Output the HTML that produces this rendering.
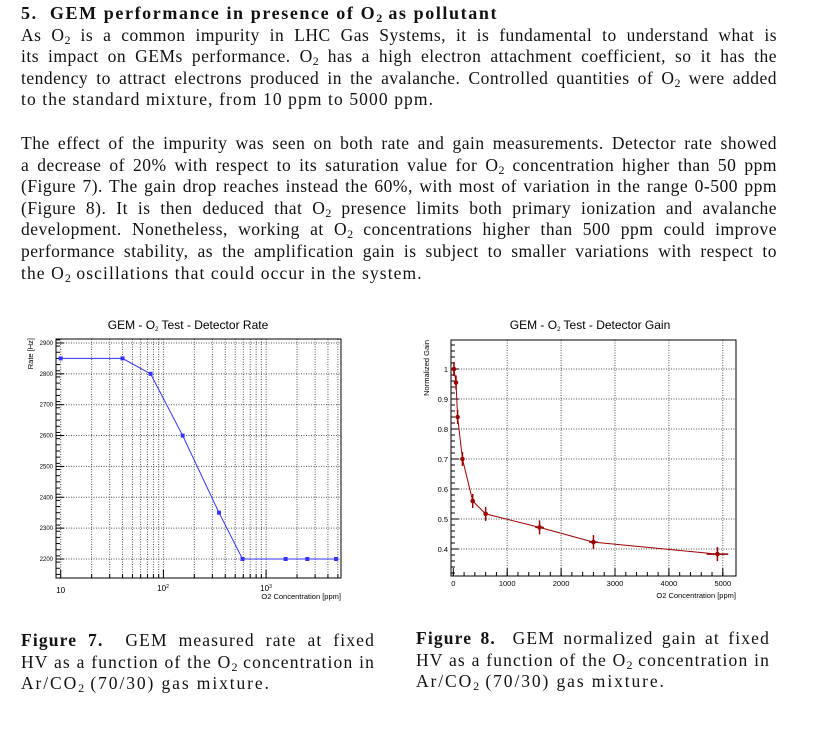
<!DOCTYPE html>
<html><head><meta charset="utf-8"><style>
body{margin:0;background:#fff;width:815px;height:743px;overflow:hidden;position:relative;font-family:"Liberation Serif",serif;color:#111}
.p{position:absolute;font-size:17.5px;line-height:21.6px;letter-spacing:0.5px}
.p div{text-align:justify;text-align-last:justify;white-space:nowrap}
.p div.l{text-align-last:left}
.c{letter-spacing:1.15px}
sub{font-size:12px;vertical-align:-3px;line-height:0;letter-spacing:0}
svg{position:absolute;left:0;top:0}
</style></head><body>
<div class="p" style="left:21px;top:3px;width:756px">
<div class="l"><b style="font-size:18px;letter-spacing:1.6px">5.&nbsp; GEM performance in presence of O<sub>2</sub> as pollutant</b></div>
<div>As O<sub>2</sub> is a common impurity in LHC Gas Systems, it is fundamental to understand what is</div>
<div>its impact on GEMs performance. O<sub>2</sub> has a high electron attachment coefficient, so it has the</div>
<div>tendency to attract electrons produced in the avalanche. Controlled quantities of O<sub>2</sub> were added</div>
<div class="l" style="letter-spacing:1.1px">to the standard mixture, from 10 ppm to 5000 ppm.</div>
</div>
<div class="p" style="left:21px;top:133px;width:756px">
<div>The effect of the impurity was seen on both rate and gain measurements. Detector rate showed</div>
<div>a decrease of 20% with respect to its saturation value for O<sub>2</sub> concentration higher than 50 ppm</div>
<div>(Figure 7). The gain drop reaches instead the 60%, with most of variation in the range 0-500 ppm</div>
<div>(Figure 8). It is then deduced that O<sub>2</sub> presence limits both primary ionization and avalanche</div>
<div>development. Nonetheless, working at O<sub>2</sub> concentrations higher than 500 ppm could improve</div>
<div>performance stability, as the amplification gain is subject to smaller variations with respect to</div>
<div class="l" style="letter-spacing:1.1px">the O<sub>2</sub> oscillations that could occur in the system.</div>
</div>
<div class="p c" style="left:21px;top:630px;width:354px">
<div><b>Figure 7.</b>&nbsp; GEM measured rate at fixed</div>
<div>HV as a function of the O<sub>2</sub> concentration in</div>
<div class="l" style="letter-spacing:1.9px">Ar/CO<sub>2</sub> (70/30) gas mixture.</div>
</div>
<div class="p c" style="left:416px;top:628px;width:354px">
<div><b>Figure 8.</b>&nbsp; GEM normalized gain at fixed</div>
<div>HV as a function of the O<sub>2</sub> concentration in</div>
<div class="l" style="letter-spacing:1.9px">Ar/CO<sub>2</sub> (70/30) gas mixture.</div>
</div>
<svg id="s" width="815" height="743" font-family="Liberation Sans, sans-serif"></svg>
<script>
var s=document.getElementById('s'),h='';
function L(x1,y1,x2,y2,st){h+='<line x1="'+x1+'" y1="'+y1+'" x2="'+x2+'" y2="'+y2+'" '+(st||'stroke="#000" stroke-width="1"')+'/>';}
function T(x,y,t,sz,a,extra){h+='<text x="'+x+'" y="'+y+'" font-size="'+sz+'" text-anchor="'+(a||'start')+'" '+(extra||'')+'>'+t+'</text>';}
var dot='stroke="#555" stroke-width="1" stroke-dasharray="1,1.5"';
var X0=56,X1=341,Y0=339,Y1=578;
function lx(v){return 60.7+(Math.log10(v)-1)*102.7;}
function ly(v){return 559-(v-2200)*0.3086;}
for(var d=1;d<=1000;d*=10)for(var m=1;m<10;m++){var v=d*m;if(v<10&&d==1)continue;var x=lx(v);if(x>X0&&x<X1){L(x,Y0,x,Y1,dot);L(x,Y1,x,Y1-(m==1?8:4));}}
for(var v=2200;v<=2900;v+=100){var y=ly(v);L(X0,y,X1,y,dot);L(X0,y,X0+8,y);T(X0-3,y+2,v,6,'end');}
for(var v=2150;v<2920;v+=20){var y=ly(v);if(y>Y0&&y<Y1)L(X0,y,X0+4,y);}
h+='<rect x="'+X0+'" y="'+Y0+'" width="'+(X1-X0)+'" height="'+(Y1-Y0)+'" fill="none" stroke="#000"/>';
var dx=[10,40,75,154,348,589,1550,2520,4800],dy=[2850,2850,2800,2600,2350,2200,2200,2200,2200],pts='';
for(var i=0;i<dx.length;i++)pts+=lx(dx[i])+','+ly(dy[i])+' ';
h+='<polyline points="'+pts+'" fill="none" stroke="#3333ff" stroke-width="1"/>';
for(var i=0;i<dx.length;i++)h+='<rect x="'+(lx(dx[i])-2)+'" y="'+(ly(dy[i])-2)+'" width="4" height="4" fill="#3333ff"/>';
T(188,329,'GEM - O<tspan font-size="6" dy="2">2</tspan><tspan dy="-2"> Test - Detector Rate</tspan>',12,'middle');
T(60.7,593,'10',8,'middle');T(163,591,'10<tspan font-size="5" dy="-3">2</tspan>',8,'middle');T(266,591,'10<tspan font-size="5" dy="-3">3</tspan>',8,'middle');
T(341,599,'O2 Concentration [ppm]',7.5,'end');
T(0,0,'Rate [Hz]',7.5,'end','transform="translate(33,338) rotate(-90)"');
var R0=451,R1=736,S0=340,S1=576;
function rx(v){return 453.3+v*0.0539;}
function ry(v){return 369-(v-1)*300;}
for(var v=0;v<=5000;v+=1000){var x=rx(v);if(v>0)L(x,S0,x,S1,dot);L(x,S1,x,S1-8);T(x,586,v,7.5,'middle');}
for(var v=0;v<=5100;v+=200){L(rx(v),S1,rx(v),S1-4);}
for(var v=0.4;v<=1.01;v+=0.1){var y=ry(v);L(R0,y,R1,y,dot);L(R0,y,R0+8,y);T(R0-3,y+3,(Math.round(v*10)/10),7.5,'end');}
for(var v=0.32;v<1.1;v+=0.02){var y=ry(v);if(y>S0&&y<S1)L(R0,y,R0+4,y);}
h+='<rect x="'+R0+'" y="'+S0+'" width="'+(R1-R0)+'" height="'+(S1-S0)+'" fill="none" stroke="#000"/>';
var gx=[12,50,80,170,360,600,1600,2600,4900],gy=[1.0,0.955,0.84,0.70,0.56,0.517,0.472,0.423,0.383];
pts='';for(var i=0;i<gx.length;i++)pts+=rx(gx[i])+','+ry(gy[i])+' ';pts+=rx(5100)+','+ry(0.382);
h+='<polyline points="'+pts+'" fill="none" stroke="#9b0000" stroke-width="1"/>';
var ex=[0,0,0,0,0,0,80,80,200];
for(var i=0;i<gx.length;i++){var x=rx(gx[i]),y=ry(gy[i]);L(x,y-7,x,y+7,'stroke="#9b0000" stroke-width="1.5"');if(ex[i])L(rx(gx[i]-ex[i]),y,rx(gx[i]+ex[i]),y,'stroke="#9b0000" stroke-width="1.5"');h+='<circle cx="'+x+'" cy="'+y+'" r="2.3" fill="#9b0000"/>';}
T(590,329,'GEM - O<tspan font-size="6" dy="2">2</tspan><tspan dy="-2"> Test - Detector Gain</tspan>',12,'middle');
T(736,598,'O2 Concentration [ppm]',7.5,'end');
T(0,0,'Normalized Gain',7.5,'end','transform="translate(429,340) rotate(-90)"');
s.innerHTML=h;
</script>
</body></html>
